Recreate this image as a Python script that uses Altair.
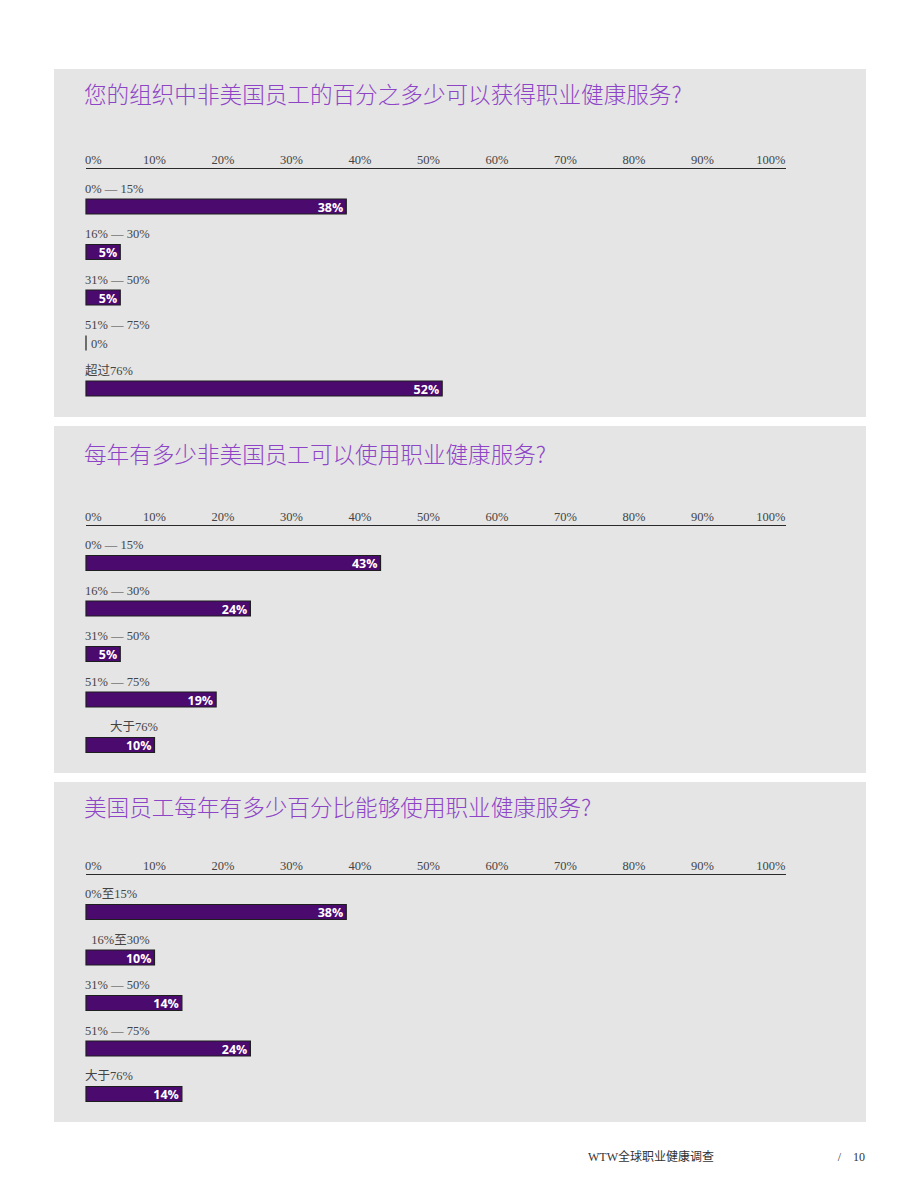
import altair as alt
import pandas as pd

# ---------------- data ----------------
title1 = "您的组织中非美国员工的百分之多少可以获得职业健康服务?"
cats1 = ["0% — 15%", "16% — 30%", "31% — 50%", "51% — 75%", "超过76%"]
vals1 = [38, 5, 5, 0, 52]

title2 = "每年有多少非美国员工可以使用职业健康服务?"
cats2 = ["0% — 15%", "16% — 30%", "31% — 50%", "51% — 75%", "\u200b" + "\u00a0" * 8 + "大于76%"]
vals2 = [43, 24, 5, 19, 10]

title3 = "美国员工每年有多少百分比能够使用职业健康服务?"
cats3 = ["0%至15%", "\u200b\u00a0\u00a016%至30%", "31% — 50%", "51% — 75%", "大于76%"]
vals3 = [38, 10, 14, 24, 14]

tick_values = [0, 10, 20, 30, 40, 50, 60, 70, 80, 90, 100]
tick_labels = [f"{t}%" for t in tick_values]
x_domain = [0, 102.2]

footer_left = "WTW全球职业健康调查"
footer_right = "/\u00a0\u00a0\u00a0\u00a010"

# ---------------- styles ----------------
PANEL_W = 812
BAR_FILL = "#4a0a6e"
BAR_STROKE = "#1e1e1e"
TITLE_COLOR = "#8e44c6"
TEXT_COLOR = "#444444"
SERIF = "Liberation Serif, Noto Sans CJK SC"
SANS = "Open Sans"
CJK = "Noto Sans CJK SC"


def panel(title, cats, vals, height, title_y, axis_y, label_y, row_top, row_bottom, footer=False):
    df = pd.DataFrame({"row": list(range(len(cats))), "cat": cats, "value": vals})
    df["zero"] = 0
    df["label"] = [f"{v}%" for v in vals]
    ticks = pd.DataFrame({"t": tick_values, "lab": tick_labels})
    axis_df = pd.DataFrame({"a": [x_domain[0]], "b": [x_domain[1]]})

    xs = alt.Scale(domain=x_domain, range=[32, 732], nice=False, zero=False)
    ys = alt.Scale(domain=[0, len(cats) - 1], range=[row_top, row_bottom], nice=False, zero=False)
    X = alt.X("value:Q", scale=xs, axis=None)
    Y = alt.Y("row:Q", scale=ys, axis=None)

    base = alt.Chart(df)

    bars = base.mark_rect(height=15, fill=BAR_FILL,
                          stroke=BAR_STROKE, strokeWidth=1.2).encode(
        x=X, x2="zero:Q", y=Y)

    cat_text = base.mark_text(align="left", baseline="middle", dy=-18, dx=-1,
                              font=SERIF, fontSize=12.5, color=TEXT_COLOR).encode(
        x=alt.X("zero:Q", scale=xs, axis=None), y=Y, text="cat:N")

    val_in = base.transform_filter("datum.value > 0").mark_text(
        align="right", baseline="middle", dx=-3, dy=1, font=SANS, fontSize=12.5,
        fontWeight="bold", color="white").encode(x=X, y=Y, text="label:N")

    val_out = base.transform_filter("datum.value == 0").mark_text(
        align="left", baseline="middle", dx=5, dy=1, font=SERIF, fontSize=12.5,
        color=TEXT_COLOR).encode(x=X, y=Y, text="label:N")

    tick_base = alt.Chart(ticks)
    tick_first = tick_base.transform_filter("datum.t == 0").mark_text(
        align="left", baseline="alphabetic", dx=-1, font=SERIF, fontSize=12.5,
        color=TEXT_COLOR).encode(
        x=alt.X("t:Q", scale=xs, axis=None), y=alt.value(label_y), text="lab:N")
    tick_rest = tick_base.transform_filter("datum.t > 0").mark_text(
        align="center", baseline="alphabetic", font=SERIF, fontSize=12.5,
        color=TEXT_COLOR).encode(
        x=alt.X("t:Q", scale=xs, axis=None), y=alt.value(label_y), text="lab:N")

    axis_line = alt.Chart(axis_df).mark_rule(color="#2a2a2a", strokeWidth=1).encode(
        x=alt.X("a:Q", scale=xs, axis=None), x2="b:Q", y=alt.value(axis_y + 0.5))

    title_text = alt.Chart(pd.DataFrame({"title": [title]})).mark_text(
        align="left", baseline="middle", font=CJK, fontSize=22.6, fontWeight=300,
        color=TITLE_COLOR).encode(x=alt.value(30), y=alt.value(title_y), text="title:N")

    layers = [bars, cat_text, val_in, val_out, tick_first, tick_rest, axis_line, title_text]

    if footer:
        fdf = pd.DataFrame({"left": [footer_left], "right": [footer_right]})
        fl = alt.Chart(fdf).mark_text(align="left", baseline="middle", font=SERIF,
                                      fontSize=12, color="#333333").encode(
            x=alt.value(534), y=alt.value(375), text="left:N")
        fr = alt.Chart(fdf).mark_text(align="right", baseline="middle", font=SERIF,
                                      fontSize=12, color="#333333").encode(
            x=alt.value(811), y=alt.value(375), text="right:N")
        layers += [fl, fr]

    return alt.layer(*layers).properties(width=PANEL_W, height=height)


p1 = panel(title1, cats1, vals1, 348, 27, 99, 95, 137.5, 319.5)
p2 = panel(title2, cats2, vals2, 347, 30, 99, 95, 137, 319)
p3 = panel(title3, cats3, vals3, 340, 27, 92, 88, 130, 312, footer=True)

chart = alt.vconcat(p1, p2, p3, spacing=9).properties(
    padding={"left": 54, "top": 69, "right": 0, "bottom": 0},
    background="white",
).configure_view(fill="#e5e5e5", stroke=None)

chart.save("out.html", embed_options={"renderer": "svg", "actions": False})
